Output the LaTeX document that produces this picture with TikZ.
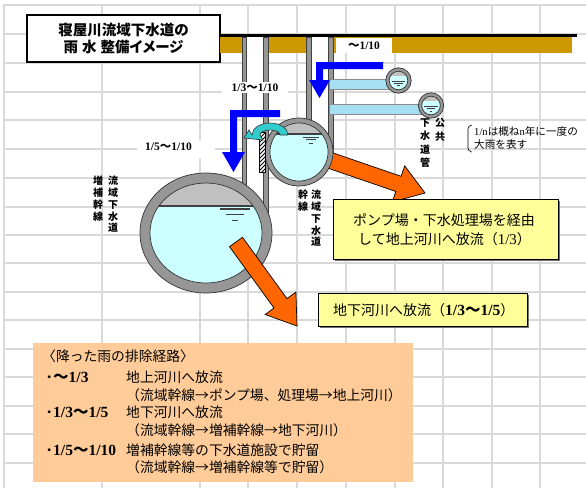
\documentclass[tikz,border=0pt]{standalone}
\usepackage{fontspec}
\setmainfont{Liberation Serif}
\newfontfamily\jpfont{Noto Sans CJK JP}
\usetikzlibrary{calc}

% wave dash and bold serif figures used in the ratio texts
\newcommand\wavech{{\jpfont 〜}}
\newcommand\numtxt[1]{{\rmfamily\bfseries #1}}
\newcommand\routenum[1]{{\rmfamily\bfseries\fontsize{15.5}{16}\selectfont #1}}
\newcommand\jpdot{\makebox[8pt][c]{\jpfont ・}}

\definecolor{gridgray}{RGB}{217,217,217}
\definecolor{groundgold}{RGB}{204,153,0}
\definecolor{ringgray}{RGB}{150,150,150}
\definecolor{airgray}{RGB}{192,192,192}
\definecolor{waterblue}{RGB}{204,255,255}
\definecolor{pipeblue}{RGB}{166,222,242}
\definecolor{overflowteal}{RGB}{51,204,204}
\definecolor{rainblue}{RGB}{0,0,255}
\definecolor{dischargeorange}{RGB}{255,102,0}
\definecolor{calloutyellow}{RGB}{255,255,153}
\definecolor{routepeach}{RGB}{255,204,153}

\tikzset{
  gridline/.style={draw=gridgray, line width=2.2pt},
  shaftwall/.style={fill=ringgray, draw=black!75, line width=0.5pt},
  ringedge/.style={draw=black!80, line width=0.7pt},
  ratiolabel/.style={inner sep=0pt, font=\rmfamily\bfseries\fontsize{11.5}{13}\selectfont},
  vtext/.style={anchor=north, align=center, inner sep=0pt, font=\jpfont\bfseries\fontsize{10}{11.8}\selectfont},
  rainflow/.style={fill=rainblue},
  discharge/.style={fill=dischargeorange, draw=black, line width=0.7pt},
  callout/.style={fill=calloutyellow, draw=black, line width=0.8pt},
  calloutshadow/.style={fill=black!55},
  boxtext/.style={anchor=west, inner sep=0pt, font=\jpfont\fontsize{14}{16}\selectfont},
  routetext/.style={anchor=west, inner sep=0pt, font=\jpfont\fontsize{13.8}{16}\selectfont},
  notetext/.style={anchor=west, inner sep=0pt, font=\jpfont\fontsize{10.6}{12}\selectfont},
  surface/.pic={
    \draw (-1,0) -- (1,0);
    \draw (-0.62,0.36) -- (0.62,0.36);
    \draw (-0.2,0.75) -- (0.2,0.75);
  },
}

\begin{document}
\begin{tikzpicture}[x=1pt, y=-1pt]
\useasboundingbox (0,0) rectangle (586,488);
\fill[white] (0,0) rectangle (586,488);

% worksheet grid
\foreach \gx in {4,102,200,248,297,346,395,443,492,540}
  \draw[gridline] (\gx,4) -- (\gx,488);
\foreach \gy in {5,34,63,92,120,149,178,207,235,263,292,320,349,377,406,434,463}
  \draw[gridline] (3,\gy) -- (586,\gy);

% title
\node[draw=black, line width=1.2pt, fill=white, minimum width=193, minimum height=47,
      align=center, inner sep=0pt, font=\jpfont\bfseries\fontsize{14.5}{16.5}\selectfont]
  (title) at (123.5,38.5)
  {寝屋川流域下水道の\\雨\hspace{4pt}水\hspace{4pt}整備{\addfontfeature{RawFeature=+palt}イメージ}};

% ground surface
\fill[groundgold] (220,37) rectangle (572,53);
\draw[line width=2.5pt] (220,35.5) -- (577,35.5);

% vertical shafts
\fill[white] (246,37) rectangle (263,215);
\fill[white] (311,37) rectangle (328,140);
\filldraw[shaftwall] (242,37) rectangle (246,200);
\filldraw[shaftwall] (263,37) rectangle (268,230);
\filldraw[shaftwall] (306,37) rectangle (311,140);
\filldraw[shaftwall] (328,37) rectangle (333,160);

% public sewer pipes
\filldraw[fill=pipeblue, draw=black!45, line width=0.5pt] (329,79) rectangle (390,89.5);
\filldraw[fill=pipeblue, draw=black!45, line width=0.5pt] (329,104) rectangle (422,114);
\foreach \cx/\cy/\sc in {398.5/80.5/6.5, 431/105.5/7}{
  \filldraw[fill=ringgray, ringedge] (\cx,\cy) circle[radius=12.7];
  \fill[waterblue] (\cx,\cy) circle[radius=9.3];
  \begin{scope}
    \clip (\cx,\cy) circle[radius=9.3];
    \fill[airgray] (\cx-10,\cy-10) rectangle (\cx+10,\cy-4.5);
  \end{scope}
  \draw[ringedge] (\cx,\cy) circle[radius=9.3];
  \pic[scale=\sc, color=black!75, line width=0.8pt] at (\cx,\cy+0.5) {surface};
}

% discharge towards the pumping station (passes under the trunk sewer)
\filldraw[discharge] (323.4,166.6) -- (395.9,191.5) -- (392.3,201.9) -- (425,193)
  -- (404.7,165.9) -- (401.1,176.3) -- (328.6,151.4) -- cycle;

% enlarged trunk sewer
\filldraw[fill=ringgray, ringedge] (206,233) ellipse[x radius=66, y radius=60];
\fill[waterblue] (206,233) ellipse[x radius=56, y radius=50];
\begin{scope}
  \clip (206,233) ellipse[x radius=56, y radius=50];
  \fill[airgray] (140,170) rectangle (272,206);
  \draw[line width=1.3pt, black!75] (140,206) -- (272,206);
\end{scope}
\draw[ringedge] (206,233) ellipse[x radius=56, y radius=50];
\pic[scale=15, color=black!75, line width=1.2pt] at (235,209) {surface};

% regional trunk sewer
\filldraw[fill=ringgray, ringedge] (299,152) circle[radius=34];
\fill[waterblue] (299,152) circle[radius=29];
\begin{scope}
  \clip (299,152) circle[radius=29];
  \fill[airgray] (268,120) rectangle (330,134);
  \draw[line width=1.2pt, black!75] (268,134) -- (330,134);
\end{scope}
\draw[ringedge] (299,152) circle[radius=29];
\pic[scale=8, color=black!75, line width=1pt] at (311,137) {surface};

% overflow weir
\filldraw[fill=white, draw=black, line width=0.6pt] (259,132) rectangle (265,172);
\begin{scope}
  \clip (259,132) rectangle (265,172);
  \foreach \k in {0,...,14}
    \draw[line width=0.9pt] (256,134+\k*4) -- (268,122+\k*4);
\end{scope}
\draw[line width=0.6pt] (259,132) rectangle (265,172);

% overflow arrow over the weir
\filldraw[fill=overflowteal, draw=black!80, line width=0.6pt]
  (288,135) arc[start angle=0, end angle=-180, x radius=18, y radius=12]
  -- (249,130) -- (244,138) -- (263,140) -- (260,135)
  arc[start angle=-180, end angle=0, x radius=10, y radius=5] -- cycle;

% rain inflow arrows
\fill[rainflow] (280,110) -- (230,110) -- (230,152) -- (222,152) -- (233.5,172)
  -- (245,152) -- (237,152) -- (237,117) -- (280,117) -- cycle;
\fill[rainflow] (383,62) -- (316,62) -- (316,80) -- (309,80) -- (319.5,98)
  -- (330,80) -- (323,80) -- (323,69) -- (383,69) -- cycle;

% return-period labels
\fill[white] (222,82) rectangle (288,93);
\node[ratiolabel] (lbl13) at (255,87.5) {1/3\wavech 1/10};
\fill[white] (336,38) rectangle (392,53);
\node[ratiolabel] (lbl10) at (364,45.5) {\wavech 1/10};
\fill[white] (137,140) rectangle (215,158);
\node[ratiolabel] (lbl15) at (168.5,147) {1/5\wavech 1/10};

% pipe names
\node[vtext] (vl1) at (113,176) {流\\域\\下\\水\\道};
\node[vtext] (vl2) at (98,176) {増\\補\\幹\\線};
\node[vtext] (vr1) at (316,190) {流\\域\\下\\水\\道};
\node[vtext] (vr2) at (303,190) {幹\\線};
\node[vtext, font=\jpfont\bfseries\fontsize{10}{13.5}\selectfont] (vp1) at (440,118) {公\\共};
\node[vtext, font=\jpfont\bfseries\fontsize{10}{13.5}\selectfont] (vp2) at (425,118) {下\\水\\道\\管};

% note on return periods
\draw[line width=0.6pt, rounded corners=3pt] (472,125) -- (468,126) -- (468,151) -- (472,152);
\node[notetext] (note1) at (474,131) {{\rmfamily 1/n}は概ね{\rmfamily n}年に一度の};
\node[notetext] (note2) at (474,144) {大雨を表す};

% callouts
\fill[calloutshadow] (335,201) rectangle (560,261);
\filldraw[callout] (333,199) rectangle (558,259);
\node[boxtext] (pump1) at (353,220) {ポンプ場・下水処理場を経由};
\node[boxtext] (pump2) at (358,239) {して地上河川へ放流（{\rmfamily\fontsize{15}{16}\selectfont 1/3}）};

\fill[calloutshadow] (320,295) rectangle (529,328);
\filldraw[callout] (318,293) rectangle (527,326);
\node[boxtext] (under1) at (333,310) {地下河川へ放流（\routenum{1/3\wavech 1/5}）};

% discharge towards the underground river
\filldraw[discharge] (229.5,246.7) -- (274.0,308.0) -- (265.1,314.5) -- (297,326)
  -- (295.9,292.1) -- (287.0,298.6) -- (242.5,237.3) -- cycle;

% drainage routes
\fill[routepeach] (33,343) rectangle (413,482);
\node[routetext] (route0) at (42,356) {〈降った雨の排除経路〉};
\node[routetext] (route1a) at (45,377) {\jpdot\routenum{\wavech 1/3}};
\node[routetext] (route1b) at (126,377) {地上河川へ放流};
\node[routetext] (route1c) at (126,395) {（流域幹線→ポンプ場、処理場→地上河川）};
\node[routetext] (route2a) at (45,412) {\jpdot\routenum{1/3\wavech 1/5}};
\node[routetext] (route2b) at (126,412) {地下河川へ放流};
\node[routetext] (route2c) at (126,430) {（流域幹線→増補幹線→地下河川）};
\node[routetext] (route3a) at (45,450) {\jpdot\routenum{1/5\wavech 1/10}};
\node[routetext] (route3b) at (126,450) {増補幹線等の下水道施設で貯留};
\node[routetext] (route3c) at (126,467) {（流域幹線→増補幹線等で貯留）};
\end{tikzpicture}
\end{document}
